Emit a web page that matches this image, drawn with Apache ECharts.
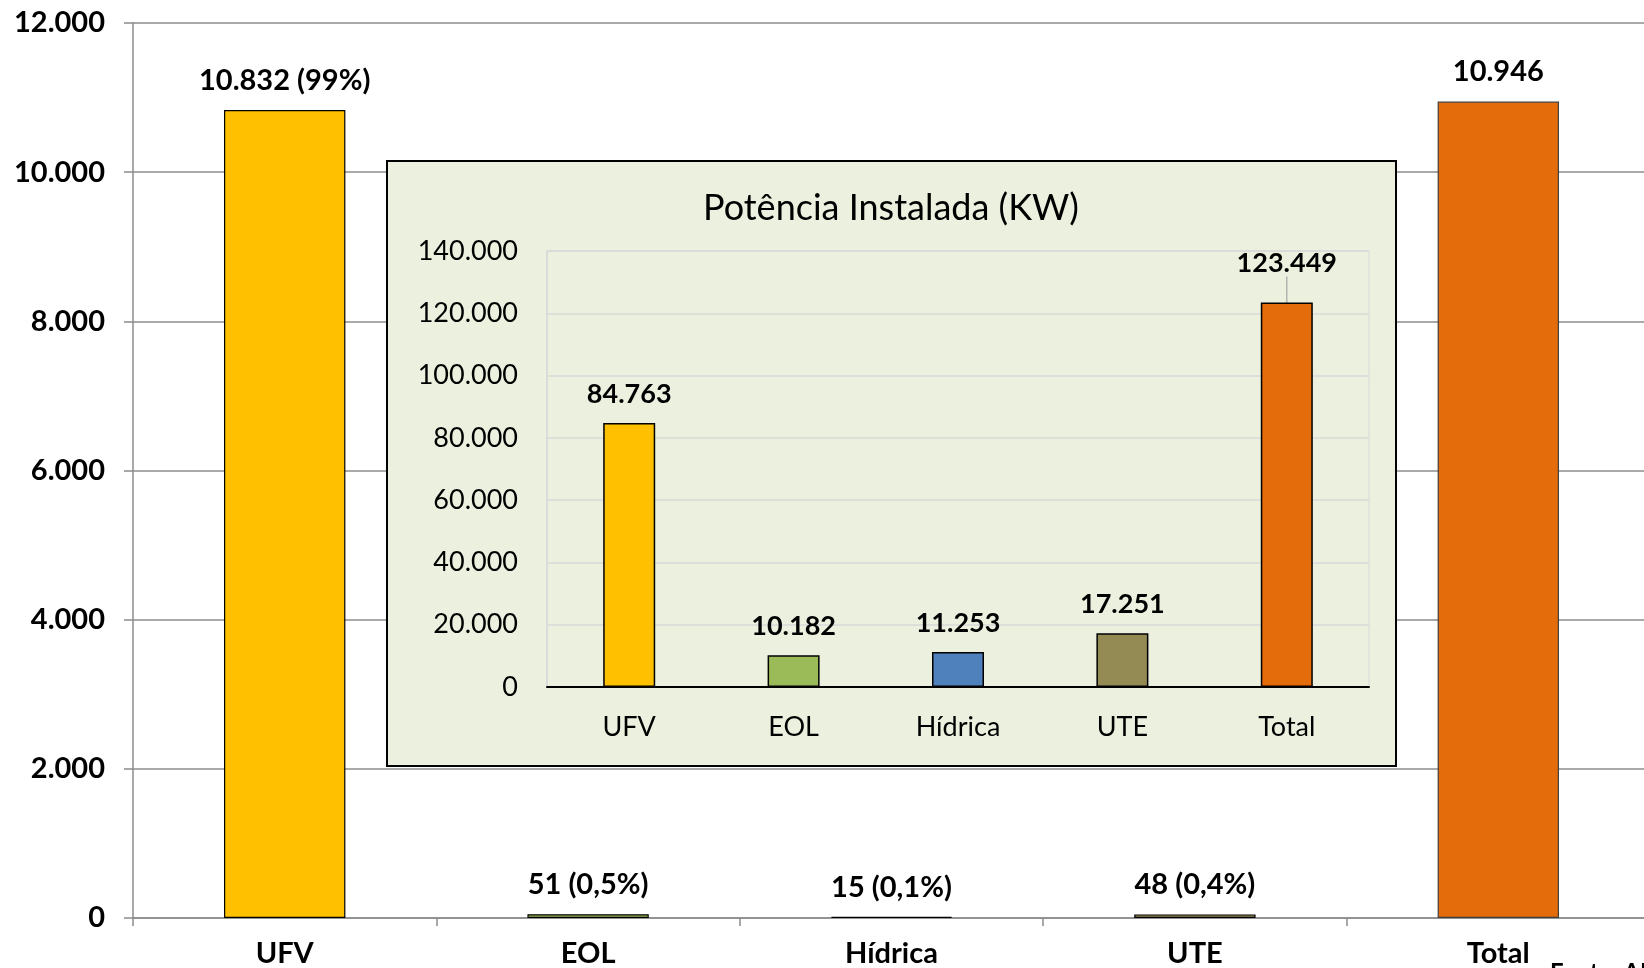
<!DOCTYPE html>
<html>
<head>
<meta charset="utf-8">
<script src="https://cdn.jsdelivr.net/npm/echarts@6/dist/echarts.min.js"></script>
<style>
  html, body { margin: 0; padding: 0; background: #fff; }
  #chart { width: 1644px; height: 968px; }
</style>
</head>
<body>
<div id="chart"></div>
<script>
// fontes (categorias)
var categorias = ['UFV', 'EOL', 'Hídrica', 'UTE', 'Total'];
// quantidade de usinas (gráfico principal)
var qtdUsinas = [10832, 51, 15, 48, 10946];
var qtdPercent = ['99%', '0,5%', '0,1%', '0,4%', ''];
// potência instalada em KW (gráfico interno)
var potencia = [84763, 10182, 11253, 17251, 123449];
var cores = ['#FFC000', '#9BBB59', '#4F81BD', '#948A54', '#E46C0A'];

var fonte = 'Lato, "Noto Sans", sans-serif';

function milhar(v) {
    return String(v).replace(/\B(?=(\d{3})+(?!\d))/g, '.');
}

var chart = echarts.init(document.getElementById('chart'));

var option = {
    backgroundColor: '#fff',
    animation: false,
    textStyle: { fontFamily: fonte },
    grid: [
        // o gráfico original continua além da borda direita
        { left: 133, top: 23, width: 1517, bottom: 50, outerBoundsMode: 'none' },
        { left: 547, top: 251, width: 822, height: 436, show: true, outerBoundsMode: 'none',
          borderColor: '#D9D9D9', borderWidth: 1, backgroundColor: 'transparent', z: 5 }
    ],
    xAxis: [{
        type: 'category',
        gridIndex: 0,
        data: categorias,
        axisLine: { lineStyle: { color: '#8C8C8C', width: 1.5 } },
        axisTick: { show: true, length: 8, lineStyle: { color: '#8C8C8C', width: 1.5 } },
        axisLabel: { color: '#000', fontWeight: 'bold', fontSize: 29, margin: 21, fontFamily: fonte }
    }, {
        type: 'category',
        gridIndex: 1,
        data: categorias,
        z: 6,
        axisLine: { lineStyle: { color: '#000', width: 2 } },
        axisTick: { show: false },
        axisLabel: { color: '#000', fontSize: 27, margin: 27, fontFamily: fonte }
    }],
    yAxis: [{
        type: 'value',
        gridIndex: 0,
        min: 0, max: 12000, interval: 2000,
        axisLine: { show: true, lineStyle: { color: '#8C8C8C', width: 1.5 } },
        axisTick: { show: true, length: 9, lineStyle: { color: '#8C8C8C', width: 1.5 } },
        splitLine: { lineStyle: { color: '#8C8C8C', width: 1.5 } },
        axisLabel: { color: '#000', fontWeight: 'bold', fontSize: 29, margin: 28, fontFamily: fonte,
                     formatter: milhar }
    }, {
        type: 'value',
        gridIndex: 1,
        min: 0, max: 140000, interval: 20000,
        z: 6,
        axisLine: { show: true, lineStyle: { color: '#D9D9D9', width: 1.5 } },
        axisTick: { show: false },
        splitLine: { lineStyle: { color: '#D9D9D9', width: 1.5 } },
        axisLabel: { color: '#000', fontSize: 27, margin: 29, fontFamily: fonte,
                     formatter: milhar }
    }],
    graphic: [{
        type: 'rect',
        z: 1,
        shape: { x: 387, y: 161, width: 1009, height: 605 },
        style: { fill: '#EBF1DE', stroke: '#000', lineWidth: 2 }
    }, {
        type: 'text',
        z: 7,
        x: 891, y: 208,
        style: { text: 'Potência Instalada (KW)', fill: '#000', font: '36px ' + fonte,
                 textAlign: 'center', textVerticalAlign: 'middle' }
    }, {
        type: 'text',
        z: 7,
        x: 1550, y: 961,
        style: { text: 'Fonte: ANEEL', fill: '#000', font: 'bold 24px ' + fonte,
                 textAlign: 'left', textVerticalAlign: 'top' }
    }],
    series: [{
        name: 'Usinas',
        type: 'bar',
        xAxisIndex: 0, yAxisIndex: 0,
        barWidth: '40%',
        data: qtdUsinas.map(function (v, i) {
            return {
                value: v,
                itemStyle: { color: cores[i], borderColor: i === 4 ? '#404040' : '#000', borderWidth: 1.2 }
            };
        }),
        label: {
            show: true, position: 'top', distance: 15,
            color: '#000', fontWeight: 'bold', fontSize: 29, fontFamily: fonte,
            formatter: function (p) {
                var p2 = qtdPercent[p.dataIndex];
                return milhar(p.value) + (p2 ? ' (' + p2 + ')' : '');
            }
        }
    }, {
        name: 'Potência',
        type: 'bar',
        xAxisIndex: 1, yAxisIndex: 1,
        z: 8,
        barWidth: 52,
        data: potencia.map(function (v, i) {
            var item = {
                value: v,
                itemStyle: { color: cores[i], borderColor: '#000', borderWidth: 1.5 }
            };
            if (i === 4) {
                item.labelLine = { show: true, lineStyle: { color: '#A6A6A6', width: 1.2 } };
            }
            return item;
        }),
        labelLayout: function (params) {
            if (params.dataIndex === 4) {
                return { dy: -11 };
            }
        },
        labelLine: { show: false },
        label: {
            show: true, position: 'top', distance: 15,
            color: '#000', fontWeight: 'bold', fontSize: 27, fontFamily: fonte,
            formatter: function (p) { return milhar(p.value); }
        }
    }]
};

chart.setOption(option);
</script>
</body>
</html>
